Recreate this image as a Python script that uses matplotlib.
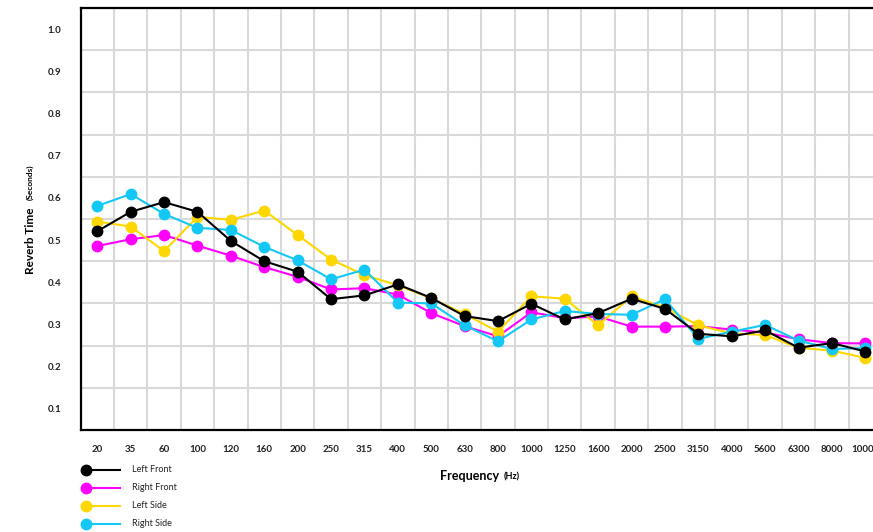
import matplotlib
matplotlib.use("Agg")
import matplotlib.pyplot as plt
from matplotlib.ticker import FixedLocator

plt.rcParams['font.family'] = ['Lato', 'DejaVu Sans']

freqs = ['20', '35', '60', '100', '120', '160', '200', '250', '315', '400', '500', '630',
         '800', '1000', '1250', '1600', '2000', '2500', '3150', '4000', '5600', '6300',
         '8000', '10000']

left_front = [0.521, 0.567, 0.590, 0.567, 0.498, 0.450, 0.425, 0.360, 0.369, 0.395, 0.363, 0.320,
              0.308, 0.349, 0.312, 0.327, 0.361, 0.337, 0.278, 0.272, 0.286, 0.245, 0.256, 0.236]
right_front = [0.486, 0.502, 0.512, 0.487, 0.463, 0.436, 0.413, 0.383, 0.386, 0.371, 0.327, 0.296,
               0.272, 0.329, 0.315, 0.319, 0.295, 0.295, 0.296, 0.288, 0.281, 0.265, 0.256, 0.255]
left_side = [0.544, 0.532, 0.474, 0.555, 0.548, 0.570, 0.512, 0.454, 0.417, 0.393, 0.362, 0.325,
             0.283, 0.367, 0.361, 0.298, 0.367, 0.340, 0.298, 0.279, 0.275, 0.245, 0.238, 0.221]
right_side = [0.581, 0.609, 0.562, 0.529, 0.524, 0.484, 0.452, 0.407, 0.430, 0.352, 0.350, 0.298,
              0.260, 0.312, 0.332, 0.325, 0.323, 0.360, 0.266, 0.283, 0.299, 0.262, 0.242, 0.244]

names = ['Left Front', 'Right Front', 'Left Side', 'Right Side']
series = [left_front, right_front, left_side, right_side]
colors = ['#000000', '#FF00FF', '#FFD700', '#14C8F5']
zorders = [6, 3, 4, 5]

y_labels = [0.1, 0.2, 0.3, 0.4, 0.5, 0.6, 0.7, 0.8, 0.9, 1.0]

fig = plt.figure(figsize=(8.73, 5.32), dpi=100)
ax = fig.add_axes([80.6 / 873, 1 - 430 / 532, (882 - 80.6) / 873, (430 - 8) / 532])

x = list(range(len(freqs)))
for vals, c, z in zip(series, colors, zorders):
    ax.plot(x, vals, color=c, lw=1.5, marker='o', ms=7.5, zorder=z)

ax.set_xlim(-0.5, len(freqs) - 0.5)
ax.set_ylim(0.05, 1.05)
ax.set_xticks(x)
ax.set_xticklabels(freqs)
ax.set_yticks(y_labels)
ax.set_yticklabels(['%.1f' % v for v in y_labels])
ax.xaxis.set_minor_locator(FixedLocator([i + 0.5 for i in range(len(freqs) - 1)]))
ax.yaxis.set_minor_locator(FixedLocator([v + 0.05 for v in y_labels[:-1]]))
ax.grid(which='minor', color='#d9d9d9', lw=1.5)
ax.tick_params(which='both', length=0)
ax.tick_params(axis='y', pad=14)
ax.tick_params(axis='x', pad=11)
for lab in ax.get_xticklabels() + ax.get_yticklabels():
    lab.set_fontsize(7)
    lab.set_fontweight('bold')
    lab.set_color('#222222')
for s in ax.spines.values():
    s.set_color('black')
    s.set_linewidth(1.6)

# axis titles with smaller unit text
fig.text(30 / 873, 1 - 241 / 532, 'Reverb Time', rotation=90, fontsize=8.5, fontweight='bold',
         ha='center', va='center')
fig.text(30 / 873, 1 - 182 / 532, '(Seconds)', rotation=90, fontsize=6, fontweight='bold',
         ha='center', va='center')
fig.text(470 / 873, 1 - 476 / 532, 'Frequency', fontsize=9, fontweight='bold',
         ha='center', va='center')
fig.text(512 / 873, 1 - 477 / 532, '(Hz)', fontsize=6.5, fontweight='bold',
         ha='center', va='center')

# legend drawn in its own small axes
lax = fig.add_axes([0, 0, 1, 1], facecolor='none')
lax.set_xlim(0, 873)
lax.set_ylim(532, 0)
lax.axis('off')
for i, (n, c) in enumerate(zip(names, colors)):
    yy = 470 + 18 * i
    lax.plot([86, 120], [yy, yy], color=c, lw=1.5)
    lax.plot([86], [yy], marker='o', color=c, ms=7.5)
    lax.text(132, yy, n, fontsize=6.5, va='center', ha='left', color='#222222')

fig.savefig('out.png', dpi=100)
